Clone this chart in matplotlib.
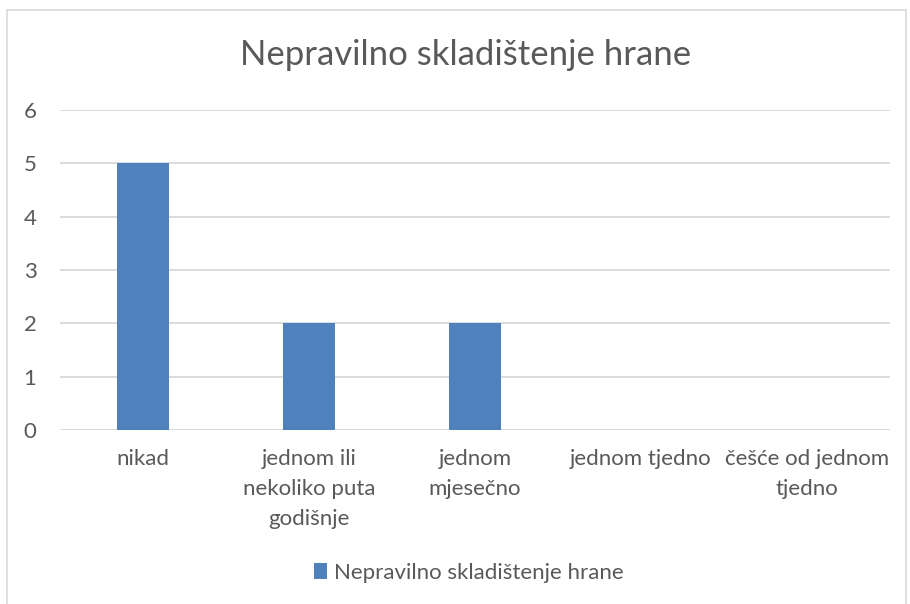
import matplotlib.pyplot as plt
from matplotlib.patches import Rectangle

categories = ["nikad", "jednom ili\nnekoliko puta\ngodišnje", "jednom\nmjesečno",
              "jednom tjedno", "češće od jednom\ntjedno"]
values = [5, 2, 2, 0, 0]
series_name = "Nepravilno skladištenje hrane"
yticks = [0, 1, 2, 3, 4, 5, 6]

plt.rcParams['font.family'] = ['Lato', 'DejaVu Sans']

fig = plt.figure(figsize=(9.1, 6.04), dpi=100)
ax = fig.add_axes([0.066, 0.288, 0.912, 0.530])

# outer chart frame (Excel style)
fig.patches.append(Rectangle((7/910, -0.1), 899/910, 1.1 - 10/604, transform=fig.transFigure,
                             fill=False, edgecolor='#d9d9d9', lw=1.2))

x = range(len(categories))
ax.bar(x, values, width=0.31, color='#4f81bd', label=series_name, zorder=3)

ax.set_xlim(-0.5, len(categories) - 0.5)
ax.set_ylim(0, 6)
ax.set_yticks(yticks)
ax.yaxis.grid(True, color='#d9d9d9', lw=1.3, zorder=0)
ax.set_xticks(list(x))
ax.set_xticklabels(categories, linespacing=1.62)
for s in ax.spines.values():
    s.set_visible(False)
ax.axhline(0, color='#d9d9d9', lw=1.3, zorder=2)
ax.tick_params(axis='both', length=0, labelsize=16, colors='#595959')
ax.tick_params(axis='x', pad=14)
ax.tick_params(axis='y', pad=17)

fig.text(0.512, 0.909, series_name, ha='center', va='center', fontsize=25, color='#595959')

fig.legend(loc='center', bbox_to_anchor=(0.515, 0.052), frameon=False, fontsize=16,
           labelcolor='#595959', handlelength=0.6, handleheight=0.7, handletextpad=0.3)

plt.savefig("out.png", dpi=100)
